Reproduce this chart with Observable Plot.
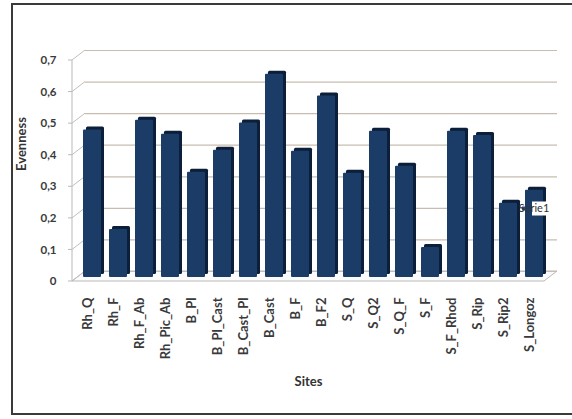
<!DOCTYPE html>
<html>
<head>
<meta charset="utf-8">
<script src="https://cdn.jsdelivr.net/npm/d3@7"></script>
<script src="https://cdn.jsdelivr.net/npm/@observablehq/plot@0.6"></script>
<style>
  html, body { margin: 0; padding: 0; background: #fff; overflow: hidden; }
  #wrap { position: relative; width: 572px; height: 419px; overflow: hidden; }
  #wrap svg { position: absolute; left: 0; top: 0; }
  #frame { position: absolute; left: 11px; top: 3px; width: 600px; height: 412px; border: 2px solid #3a3a3a; box-sizing: border-box; pointer-events: none; }
</style>
</head>
<body>
<div id="wrap"><div id="frame"></div></div>
<script>
const sites = ["Rh_Q","Rh_F","Rh_F_Ab","Rh_Pic_Ab","B_Pl","B_Pl_Cast","B_Cast_Pl","B_Cast","B_F","B_F2","S_Q","S_Q2","S_Q_F","S_F","S_F_Rhod","S_Rip","S_Rip2","S_Longoz"];
const evenness = [0.467,0.152,0.498,0.454,0.333,0.403,0.489,0.644,0.400,0.575,0.330,0.463,0.352,0.095,0.463,0.450,0.235,0.276];
const yTicks = [0,0.1,0.2,0.3,0.4,0.5,0.6,0.7];
const seriesName = "Serie1";
const xTitle = "Sites";
const yTitle = "Evenness";

const data = sites.map((s, i) => ({site: s, value: evenness[i]}));

const FONT = "Lato, 'DejaVu Sans', sans-serif";
const frontColor = "#1c3c68";
const sideColor = "#0b1e3a";
const gridColor = "#c8bcb0";
const DX = 13, DY = -10;

const fmt = d => d === 0 ? "0" : d3.format(".1f")(d).replace(".", ",");

// decorative 3D walls/floor drawn from the plot's own y scale and dimensions
function walls(index, scales, values, dim) {
  const g = d3.create("svg:g");
  const x0 = dim.marginLeft, x1 = dim.width - dim.marginRight;
  const y = scales.y;
  const yb = y(0);
  g.append("path")
    .attr("d", `M${x0},${yb}L${x1},${yb}L${x1+DX},${yb+DY}L${x0+DX},${yb+DY}Z`)
    .attr("fill", "#fbfbfb").attr("stroke", "#b9b9b9").attr("stroke-width", 1);
  g.append("line").attr("x1", x0).attr("x2", x0)
    .attr("y1", y(yTicks[yTicks.length-1])).attr("y2", yb)
    .attr("stroke", "#b9b9b9");
  for (const t of yTicks) {
    g.append("line").attr("x1", x0 - 4).attr("x2", x0).attr("y1", y(t)).attr("y2", y(t))
      .attr("stroke", "#b9b9b9");
    g.append("line").attr("x1", x0).attr("x2", x0 + DX).attr("y1", y(t)).attr("y2", y(t) + DY)
      .attr("stroke", gridColor);
  }
  return g.node();
}

function legend(index, scales, values, dim) {
  const g = d3.create("svg:g");
  const cy = dim.height / 2 - 1;
  g.append("rect").attr("x", 532).attr("y", cy - 7).attr("width", 40).attr("height", 14).attr("fill", "#fff");
  g.append("rect").attr("x", 522).attr("y", cy - 2).attr("width", 4).attr("height", 4).attr("fill", "#2a4a78");
  g.append("text").attr("x", 534).attr("y", cy).attr("dy", "0.35em")
    .attr("font-family", FONT).attr("font-size", 11).attr("fill", "#333").text(seriesName);
  return g.node();
}

const chart = Plot.plot({
  width: 572,
  height: 419,
  marginLeft: 72,
  marginRight: 28,
  marginTop: 60,
  marginBottom: 138,
  style: {fontFamily: FONT, background: "transparent"},
  x: {domain: sites, paddingInner: 0.3, paddingOuter: 0.2, label: null},
  y: {domain: [0, 0.7], label: null},
  marks: [
    walls,
    Plot.ruleY(yTicks, {stroke: gridColor, strokeWidth: 1.2, dx: DX, dy: DY}),
    Plot.barY(data, {x: "site", y: "value", fill: sideColor, dx: 8, dy: -7, rx: 1.5}),
    Plot.barY(data, {x: "site", y: "value", fill: frontColor, dx: 5, dy: -4, rx: 1}),
    Plot.axisY({ticks: yTicks, tickFormat: fmt, tickSize: 0, tickPadding: 16, fontSize: 11.5, fontWeight: "bold", fill: "#3a3a3a", label: null}),
    Plot.axisX({tickSize: 0, tickRotate: -90, tickPadding: 16, fontSize: 13, fontWeight: "bold", fill: "#3a3a3a", label: null}),
    Plot.text([yTitle], {frameAnchor: "left", dx: -51, rotate: -90, fontSize: 13, fontWeight: "bold", fill: "#333"}),
    Plot.text([xTitle], {frameAnchor: "bottom", dy: 104, fontSize: 13, fontWeight: "bold", fill: "#333"}),
    legend
  ]
});
document.getElementById("wrap").insertBefore(chart, document.getElementById("frame"));
</script>
</body>
</html>
